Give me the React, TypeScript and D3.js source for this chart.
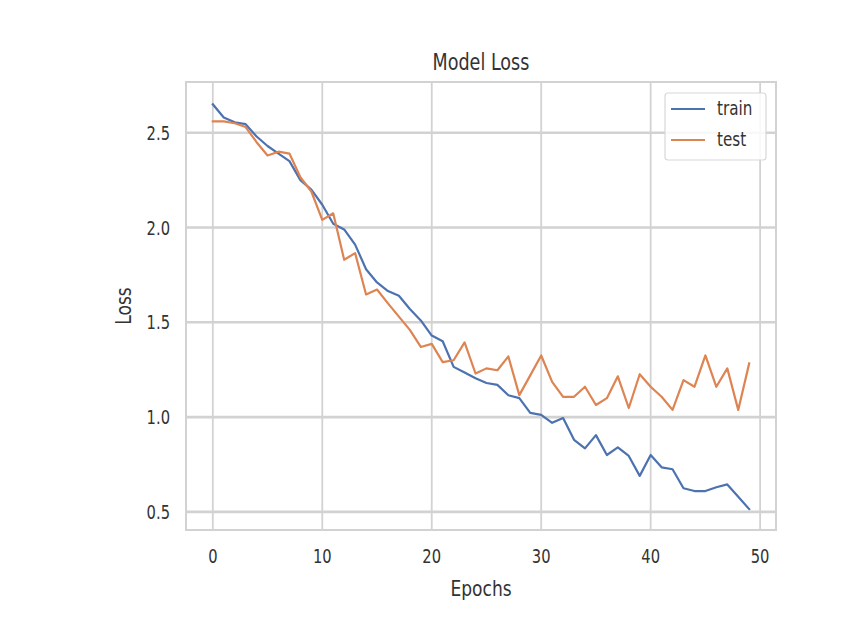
import React from "react";
import * as d3 from "d3";

const epochs: number[] = d3.range(0, 50);
const trainLoss: number[] = [
  2.65, 2.58, 2.555, 2.545, 2.48, 2.43, 2.39, 2.35, 2.25, 2.2,
  2.12, 2.02, 1.99, 1.91, 1.78, 1.71, 1.665, 1.64, 1.57, 1.51,
  1.43, 1.4, 1.265, 1.235, 1.205, 1.18, 1.17, 1.115, 1.1, 1.022,
  1.012, 0.97, 0.995, 0.88, 0.835, 0.905, 0.8, 0.84, 0.795, 0.69,
  0.8, 0.735, 0.725, 0.625, 0.61, 0.61, 0.63, 0.645, 0.58, 0.515,
];
const testLoss: number[] = [
  2.56, 2.56, 2.55, 2.53, 2.45, 2.38, 2.4, 2.39, 2.265, 2.19,
  2.04, 2.075, 1.83, 1.865, 1.647, 1.673, 1.6, 1.53, 1.46, 1.37,
  1.386, 1.29, 1.3, 1.394, 1.23, 1.257, 1.247, 1.32, 1.116, 1.22,
  1.325, 1.186, 1.107, 1.107, 1.16, 1.064, 1.1, 1.215, 1.048, 1.226,
  1.16, 1.107, 1.038, 1.195, 1.16, 1.325, 1.16, 1.257, 1.038, 1.283,
];
const xTicks: number[] = [0, 10, 20, 30, 40, 50];
const yTicks: number[] = [0.5, 1.0, 1.5, 2.0, 2.5];
const seriesNames: string[] = ["train", "test"];
const seriesColors: string[] = ["#4c72b0", "#dd8452"];

const W = 848;
const H = 630;
const left = 186, right = 776, top = 82, bottom = 530;
const FONT = "DejaVu Sans, sans-serif";
const GRID = "#d2d2d2";
const SY = 1.2;

function T(props: {
  x: number;
  y: number;
  size: number;
  anchor?: string;
  rotate?: number;
  children: React.ReactNode;
}) {
  const { x, y, size, anchor = "start", rotate = 0, children } = props;
  return (
    <g transform={`translate(${x},${y}) rotate(${rotate}) scale(0.95,${SY})`}>
      <text
        x={0}
        y={0}
        textAnchor={anchor as any}
        fontFamily={FONT}
        fontSize={size}
        fill="#333"
      >
        {children}
      </text>
    </g>
  );
}

export default function App() {
  const x = d3.scaleLinear().domain([-2.45, 51.45]).range([left, right]);
  const y = d3.scaleLinear().domain([0.4045, 2.7675]).range([bottom, top]);
  const line = d3
    .line<number>()
    .x((_, i) => x(epochs[i]))
    .y((d) => y(d));
  const series = [trainLoss, testLoss];

  return (
    <svg
      width={W}
      height={H}
      style={{ position: "absolute", left: 0, top: 0, background: "#fff" }}
    >
      <rect x={0} y={0} width={W} height={H} fill="#fff" />
      {xTicks.map((t) => (
        <line
          key={"gx" + t}
          x1={x(t)}
          x2={x(t)}
          y1={top}
          y2={bottom}
          stroke={GRID}
          strokeWidth={1.8}
        />
      ))}
      {yTicks.map((t) => (
        <line
          key={"gy" + t}
          x1={left}
          x2={right}
          y1={y(t)}
          y2={y(t)}
          stroke={GRID}
          strokeWidth={2.6}
        />
      ))}
      <rect
        x={left}
        y={top}
        width={right - left}
        height={bottom - top}
        fill="none"
        stroke={GRID}
        strokeWidth={2}
      />
      {series.map((s, k) => (
        <path
          key={"s" + k}
          d={line(s) || ""}
          fill="none"
          stroke={seriesColors[k]}
          strokeWidth={2.2}
          strokeLinejoin="round"
          strokeLinecap="square"
        />
      ))}
      {xTicks.map((t) => (
        <T key={"tx" + t} x={x(t)} y={563} size={15.5} anchor="middle">
          {t}
        </T>
      ))}
      {yTicks.map((t) => (
        <T key={"ty" + t} x={170} y={y(t) + 7} size={15.5} anchor="end">
          {d3.format(".1f")(t)}
        </T>
      ))}
      <T x={(left + right) / 2} y={596} size={18} anchor="middle">
        Epochs
      </T>
      <T x={131} y={(top + bottom) / 2} size={18} anchor="middle" rotate={-90}>
        Loss
      </T>
      <T x={(left + right) / 2} y={70} size={18.5} anchor="middle">
        Model Loss
      </T>
      <rect
        x={665}
        y={93}
        width={101}
        height={67}
        rx={3}
        fill="#fff"
        fillOpacity={0.85}
        stroke="#d8d8d8"
        strokeWidth={1.2}
      />
      {seriesNames.map((n, k) => (
        <g key={"lg" + n}>
          <line
            x1={671}
            x2={705}
            y1={109 + k * 31}
            y2={109 + k * 31}
            stroke={seriesColors[k]}
            strokeWidth={2.2}
          />
          <T x={717} y={115 + k * 31} size={16}>
            {n}
          </T>
        </g>
      ))}
    </svg>
  );
}
